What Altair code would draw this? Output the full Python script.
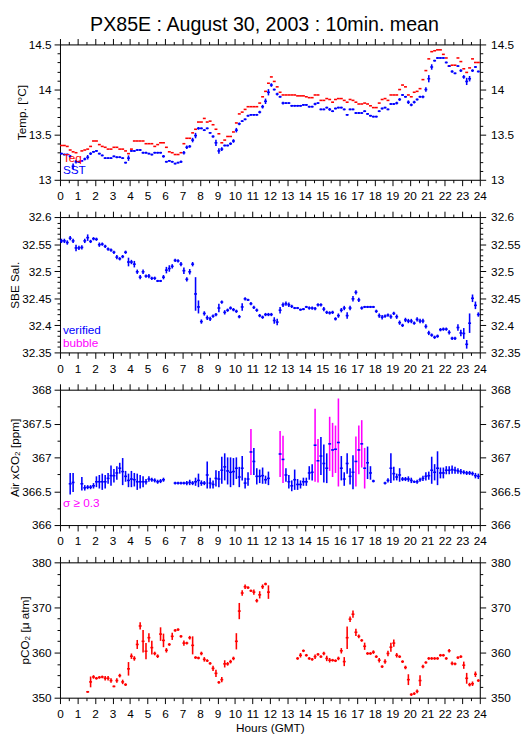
import altair as alt
import pandas as pd

FONT = "Liberation Sans"
W, H = 428, 138

# ---- data: 10-minute means, one row per hour (6 bins), None = no data ----
sst_rows = [
    [13.29, 13.28, 13.28, 13.26, 13.15, 13.20],
    [13.20, 13.21, 13.23, 13.25, 13.29, 13.31],
    [13.32, 13.29, 13.27, 13.24, 13.24, 13.24],
    [13.26, 13.25, 13.25, 13.24, 13.19, 13.24],
    [13.32, 13.32, 13.33, 13.33, 13.30, 13.30],
    [13.29, 13.28, 13.30, 13.30, 13.30, 13.26],
    [13.20, 13.21, 13.20, 13.18, 13.19, 13.20],
    [13.30, 13.36, 13.37, 13.44, 13.49, 13.57],
    [13.57, 13.55, 13.57, 13.52, 13.48, 13.41],
    [13.32, 13.34, 13.38, 13.38, 13.40, 13.43],
    [13.55, 13.62, 13.65, 13.67, 13.71, 13.72],
    [13.72, 13.72, 13.75, 13.81, 13.87, 13.97],
    [14.05, 14.00, 13.95, 13.92, 13.85, 13.85],
    [13.85, 13.82, 13.82, 13.82, 13.82, 13.83],
    [13.83, 13.81, 13.81, 13.84, 13.85, 13.78],
    [13.78, 13.80, 13.78, 13.76, 13.79, 13.80],
    [13.80, 13.78, 13.72, 13.78, 13.78, 13.74],
    [13.74, 13.74, 13.76, 13.73, 13.71, 13.70],
    [13.70, 13.76, 13.79, 13.80, 13.78, 13.84],
    [13.84, 13.85, 13.89, 13.94, 13.92, 13.86],
    [13.83, 13.86, 13.89, 13.92, 13.92, 14.00],
    [14.12, 14.25, 14.32, 14.35, 14.35, 14.35],
    [14.30, 14.26, 14.20, 14.18, 14.26, 14.21],
    [14.14, 14.09, 14.12, 14.21, 14.25, 14.20],
]
sst_sd_rows = [
    [0.01, 0.01, 0.01, 0.015, 0.03, 0.02],
    [0.01, 0.01, 0.015, 0.025, 0.015, 0.01],
    [0.01, 0.01, 0.01, 0.01, 0.01, 0.01],
    [0.01, 0.01, 0.01, 0.01, 0.01, 0.03],
    [0.01, 0.01, 0.01, 0.01, 0.01, 0.01],
    [0.01, 0.01, 0.01, 0.01, 0.01, 0.015],
    [0.01, 0.01, 0.01, 0.01, 0.01, 0.015],
    [0.02, 0.02, 0.015, 0.025, 0.03, 0.015],
    [0.01, 0.01, 0.01, 0.01, 0.015, 0.035],
    [0.03, 0.02, 0.01, 0.01, 0.015, 0.02],
    [0.025, 0.015, 0.01, 0.01, 0.01, 0.01],
    [0.01, 0.01, 0.015, 0.02, 0.03, 0.035],
    [0.02, 0.01, 0.015, 0.01, 0.015, 0.01],
    [0.01, 0.01, 0.01, 0.01, 0.01, 0.01],
    [0.01, 0.01, 0.01, 0.015, 0.01, 0.01],
    [0.01, 0.01, 0.015, 0.01, 0.01, 0.01],
    [0.01, 0.01, 0.01, 0.01, 0.01, 0.01],
    [0.01, 0.01, 0.01, 0.01, 0.01, 0.01],
    [0.01, 0.01, 0.01, 0.01, 0.01, 0.01],
    [0.01, 0.015, 0.015, 0.01, 0.01, 0.02],
    [0.015, 0.015, 0.01, 0.01, 0.015, 0.025],
    [0.04, 0.03, 0.01, 0.01, 0.01, 0.01],
    [0.01, 0.01, 0.015, 0.01, 0.01, 0.015],
    [0.02, 0.04, 0.03, 0.015, 0.01, 0.01],
]
teq_rows = [
    [13.38, 13.38, 13.37, 13.33, 13.31, 13.30],
    [13.20, 13.32, 13.33, 13.34, 13.37, 13.43],
    [13.43, 13.39, 13.37, 13.36, 13.34, 13.34],
    [13.36, 13.36, 13.34, 13.34, 13.32, 13.29],
    [13.34, 13.43, 13.43, 13.43, 13.43, 13.40],
    [13.40, 13.40, 13.37, 13.39, 13.41, 13.41],
    [13.36, 13.31, 13.30, 13.28, 13.28, 13.30],
    [13.40, 13.46, 13.46, 13.52, 13.56, 13.64],
    [13.64, 13.68, 13.64, 13.65, 13.61, 13.56],
    [13.51, 13.41, 13.44, 13.48, 13.48, 13.53],
    [13.63, 13.73, 13.75, 13.78, 13.81, 13.81],
    [13.81, 13.81, 13.85, 13.92, 13.98, 14.07],
    [14.14, 14.09, 14.03, 13.97, 13.94, 13.94],
    [13.94, 13.94, 13.94, 13.93, 13.93, 13.93],
    [13.92, 13.91, 13.91, 13.94, 13.94, 13.88],
    [13.88, 13.90, 13.89, 13.86, 13.89, 13.90],
    [13.90, 13.88, 13.86, 13.89, 13.88, 13.86],
    [13.84, 13.84, 13.85, 13.84, 13.82, 13.80],
    [13.80, 13.85, 13.89, 13.90, 13.88, 13.94],
    [13.94, 13.94, 14.00, 14.05, 14.03, 13.94],
    [13.92, 13.97, 13.98, 14.01, 14.11, 14.21],
    [14.34, 14.42, 14.43, 14.44, 14.44, 14.39],
    [14.35, 14.26, 14.27, 14.27, 14.35, 14.31],
    [14.23, 14.19, 14.24, 14.34, 14.30, 14.30],
]
sal_rows = [
    [32.556, 32.556, 32.553, 32.561, 32.556, 32.543],
    [32.543, 32.544, 32.556, 32.562, 32.555, 32.560],
    [32.559, 32.549, 32.550, 32.546, 32.541, 32.539],
    [32.535, 32.526, 32.523, 32.527, 32.535, 32.517],
    [32.517, 32.513, 32.499, 32.489, 32.499, 32.491],
    [32.491, 32.487, 32.487, 32.482, 32.482, 32.489],
    [32.502, 32.505, 32.509, 32.520, 32.519, 32.513],
    [32.501, 32.485, 32.499, 32.513, 32.458, 32.434],
    [32.407, 32.422, 32.414, 32.412, 32.417, 32.420],
    [32.432, 32.443, 32.424, 32.428, 32.432, 32.429],
    [32.426, 32.416, 32.434, 32.449, 32.447, 32.440],
    [32.433, 32.428, 32.418, 32.415, 32.420, 32.420],
    [32.420, 32.409, 32.406, 32.428, 32.438, 32.440],
    [32.438, 32.435, 32.432, 32.432, 32.429, 32.430],
    [32.434, 32.432, 32.432, 32.431, 32.438, 32.438],
    [32.430, 32.424, 32.423, 32.424, 32.412, 32.418],
    [32.428, 32.432, 32.418, 32.432, 32.449, 32.461],
    [32.447, 32.432, 32.434, 32.434, 32.434, 32.434],
    [32.426, 32.418, 32.415, 32.417, 32.419, 32.416],
    [32.422, 32.416, 32.405, 32.400, 32.410, 32.408],
    [32.408, 32.404, 32.411, 32.408, 32.408, 32.398],
    [32.386, 32.382, 32.378, 32.380, 32.392, 32.393],
    [32.393, 32.387, 32.376, 32.376, 32.396, 32.386],
    [32.385, 32.365, 32.404, 32.450, 32.437, 32.420],
]
sal_sd_rows = [
    [0.004, 0.004, 0.004, 0.004, 0.004, 0.006],
    [0.004, 0.004, 0.004, 0.006, 0.003, 0.003],
    [0.003, 0.004, 0.003, 0.003, 0.003, 0.003],
    [0.003, 0.004, 0.003, 0.003, 0.003, 0.008],
    [0.004, 0.006, 0.004, 0.004, 0.004, 0.003],
    [0.004, 0.003, 0.003, 0.002, 0.002, 0.004],
    [0.006, 0.006, 0.004, 0.003, 0.003, 0.004],
    [0.006, 0.004, 0.005, 0.004, 0.031, 0.012],
    [0.004, 0.004, 0.004, 0.004, 0.003, 0.003],
    [0.008, 0.003, 0.004, 0.003, 0.003, 0.003],
    [0.003, 0.003, 0.007, 0.003, 0.002, 0.003],
    [0.003, 0.003, 0.003, 0.003, 0.003, 0.003],
    [0.003, 0.006, 0.006, 0.006, 0.004, 0.004],
    [0.004, 0.003, 0.002, 0.002, 0.002, 0.002],
    [0.002, 0.003, 0.003, 0.003, 0.003, 0.003],
    [0.004, 0.003, 0.003, 0.003, 0.003, 0.004],
    [0.004, 0.004, 0.006, 0.004, 0.005, 0.004],
    [0.004, 0.003, 0.002, 0.002, 0.002, 0.002],
    [0.003, 0.004, 0.004, 0.003, 0.003, 0.004],
    [0.003, 0.004, 0.004, 0.003, 0.004, 0.004],
    [0.004, 0.003, 0.004, 0.004, 0.004, 0.004],
    [0.004, 0.003, 0.003, 0.003, 0.003, 0.003],
    [0.003, 0.004, 0.003, 0.003, 0.006, 0.006],
    [0.01, 0.008, 0.018, 0.007, 0.007, 0.004],
]
xco2_rows = [
    [None, None, None, 366.61, 366.63, None],
    [None, 366.61, 366.55, 366.56, 366.56, 366.58],
    [366.64, 366.64, 366.64, 366.64, 366.69, 366.73],
    [366.73, 366.77, 366.84, 366.79, 366.72, 366.66],
    [366.68, 366.67, 366.64, 366.64, 366.64, 366.64],
    [366.68, 366.67, 366.66, 366.64, 366.65, 366.67],
    [None, None, None, 366.62, 366.62, 366.62],
    [366.62, 366.62, 366.63, 366.62, 366.64, 366.66],
    [366.62, 366.62, 366.74, 366.62, 366.60, 366.69],
    [366.68, 366.81, 366.86, 366.80, 366.78, 366.79],
    [366.84, 366.71, 366.84, 366.62, 366.68, 367.08],
    [366.94, 366.72, 366.72, 366.73, 366.67, 366.69],
    [None, None, None, 367.05, 366.97, 366.74],
    [366.64, 366.58, 366.67, 366.60, 366.60, 366.64],
    [366.64, 366.77, 366.78, 367.18, 366.95, 367.02],
    [366.91, 366.84, 367.20, 367.11, 367.12, 367.22],
    [366.84, 366.68, 366.91, 366.72, 366.78, 366.94],
    [367.11, 367.20, 366.84, 366.92, 366.77, 366.65],
    [None, None, None, 366.62, 366.66, 366.84],
    [366.76, 366.71, 366.74, 366.68, 366.68, 366.68],
    [366.66, 366.64, 366.64, 366.67, 366.69, 366.72],
    [366.73, 366.81, 366.78, 366.84, 366.77, 366.77],
    [366.81, 366.81, 366.82, 366.81, 366.80, 366.79],
    [366.78, 366.77, 366.77, 366.76, 366.73, 366.72],
]
xco2_sd_rows = [
    [0, 0, 0, 0.16, 0.14, 0],
    [0, 0.1, 0.04, 0.03, 0.03, 0.04],
    [0.08, 0.1, 0.12, 0.1, 0.08, 0.15],
    [0.1, 0.1, 0.08, 0.2, 0.08, 0.1],
    [0.12, 0.1, 0.12, 0.1, 0.08, 0.04],
    [0.04, 0.03, 0.03, 0.03, 0.03, 0.03],
    [0, 0, 0, 0.02, 0.02, 0.02],
    [0.02, 0.03, 0.04, 0.03, 0.06, 0.1],
    [0.04, 0.03, 0.2, 0.08, 0.06, 0.12],
    [0.12, 0.2, 0.2, 0.2, 0.22, 0.2],
    [0.16, 0.15, 0.18, 0.08, 0.1, 0.34],
    [0.2, 0.12, 0.1, 0.12, 0.06, 0.1],
    [0, 0, 0, 0.34, 0.35, 0.1],
    [0.1, 0.08, 0.15, 0.08, 0.06, 0.06],
    [0.06, 0.1, 0.12, 0.54, 0.32, 0.28],
    [0.28, 0.22, 0.4, 0.4, 0.35, 0.65],
    [0.18, 0.1, 0.15, 0.12, 0.25, 0.37],
    [0.36, 0.35, 0.3, 0.24, 0.1, 0.02],
    [0, 0, 0, 0.02, 0.03, 0.22],
    [0.1, 0.05, 0.1, 0.03, 0.03, 0.04],
    [0.04, 0.02, 0.03, 0.03, 0.04, 0.06],
    [0.06, 0.2, 0.12, 0.25, 0.08, 0.08],
    [0.06, 0.06, 0.06, 0.05, 0.04, 0.04],
    [0.03, 0.03, 0.03, 0.03, 0.04, 0.04],
]
pco2_rows = [
    [None, None, None, None, None, None],
    [None, None, None, 351.3, 353.5, 354.6],
    [354.3, 354.5, 354.6, 354.3, 354.3, 353.8],
    [352.5, 353.8, 354.9, 353.5, 352.9, 356.4],
    [359.2, 358.7, 361.8, 365.9, 362.5, 360.3],
    [363.3, 361.1, 359.8, 359.2, 364.1, 362.7],
    [360.5, 361.8, 363.6, 364.9, 365.1, 363.6],
    [362.1, 362.1, 363.3, 361.6, 358.9, 358.8],
    [359.8, 358.5, 358.2, 357.6, 356.5, 355.4],
    [353.4, 354.0, 357.5, 357.5, 358.0, 358.7],
    [362.5, 369.2, 373.2, 374.6, 374.4, 373.7],
    [373.4, 371.5, 372.8, 374.6, 375.2, 373.4],
    [None, None, None, None, None, None],
    [None, None, None, 358.7, 359.4, 360.4],
    [359.4, 358.7, 358.5, 359.1, 359.6, 359.1],
    [359.8, 358.7, 358.3, 358.3, 358.2, 358.7],
    [360.4, 358.0, 363.3, 367.4, 368.5, 364.5],
    [363.6, 362.7, 361.4, 359.8, 359.8, 360.1],
    [359.1, 358.3, 356.9, 358.0, 359.8, 361.2],
    [362.1, 359.4, 359.1, 358.0, 356.7, 354.0],
    [350.7, 350.9, 351.4, 353.8, 356.9, 357.8],
    [358.7, 358.7, 358.7, 358.7, 359.4, 359.4],
    [358.7, 360.4, 357.6, 357.5, 358.9, 359.1],
    [357.2, 354.3, 352.9, 353.1, 355.2, 353.8],
]
pco2_sd_rows = [
    [0, 0, 0, 0, 0, 0],
    [0, 0, 0, 0.2, 1.2, 0.4],
    [0.3, 0.3, 0.3, 0.5, 0.5, 0.5],
    [0.2, 0.5, 0.4, 0.5, 0.3, 1.5],
    [0.6, 0.5, 1.0, 0.8, 2.5, 1.8],
    [1.0, 1.5, 0.4, 0.4, 1.5, 1.5],
    [0.5, 0.3, 0.8, 0.3, 0.3, 0.3],
    [0.6, 0.3, 0.4, 2.0, 0.3, 0.3],
    [0.4, 0.5, 0.3, 0.3, 0.6, 0.8],
    [0.3, 0.6, 0.8, 0.4, 0.4, 0.4],
    [1.8, 1.8, 0.6, 0.5, 0.3, 0.3],
    [0.6, 0.4, 0.8, 0.5, 0.3, 1.5],
    [0, 0, 0, 0, 0, 0],
    [0, 0, 0, 0.3, 0.5, 0.3],
    [0.3, 0.3, 0.3, 0.5, 0.3, 0.3],
    [0.4, 0.6, 0.5, 0.3, 0.3, 0.4],
    [0.6, 1.0, 2.5, 0.6, 0.8, 0.8],
    [0.4, 0.3, 0.8, 0.3, 0.3, 0.4],
    [0.3, 0.5, 0.3, 0.5, 0.6, 1.0],
    [0.8, 0.5, 0.3, 0.3, 0.4, 1.2],
    [0.3, 0.3, 0.4, 1.2, 0.4, 0.3],
    [0.3, 0.3, 0.3, 0.3, 0.3, 0.3],
    [0.3, 0.4, 0.4, 0.3, 0.3, 0.3],
    [0.8, 1.2, 0.4, 0.5, 0.6, 0.3],
]

x_ticks = [k * 0.5 for k in range(49)]
y1_ticks = [round(13 + 0.1 * k, 2) for k in range(16)]
y2_ticks = [round(32.35 + 0.01 * k, 3) for k in range(26)]
y3_ticks = [round(366 + 0.25 * k, 2) for k in range(9)]
y4_ticks = [round(350 + 2.5 * k, 1) for k in range(13)]


def flat(rows):
    out = []
    for r in rows:
        out.extend(r)
    return out


def table(rows, sd_rows=None):
    vals = flat(rows)
    sds = flat(sd_rows) if sd_rows is not None else [0] * len(vals)
    recs = []
    for i, (v, s) in enumerate(zip(vals, sds)):
        if v is None:
            continue
        t = (i + 0.5) / 6.0
        recs.append({"t": t, "lo": t - 1 / 12, "hi": t + 1 / 12, "v": v,
                     "v1": v - s, "v2": v + s, "sd": s})
    return pd.DataFrame(recs)


XS = alt.Scale(domain=[0, 24], nice=False, zero=False)


def xaxis(orient, show_labels, title=None):
    kw = dict(orient=orient, values=x_ticks,
              tickSize={"condition": {"test": "datum.value % 1 == 0", "value": 6}, "value": 3},
              labels=show_labels,
              labelExpr="datum.value % 1 == 0 ? format(datum.value, '~g') : ''",
              labelFlush=False, labelOverlap=False, labelPadding=5,
              labelFontSize=12, labelFont=FONT, labelColor="black",
              domainColor="black", tickColor="black", grid=False)
    if title:
        kw.update(title=title, titleFont=FONT, titleFontSize=12,
                  titleFontWeight="normal", titlePadding=3, titleColor="black")
    else:
        kw["title"] = None
    return alt.Axis(**kw)


def yaxis(orient, ticks, test, title=None):
    kw = dict(orient=orient, values=ticks,
              tickSize={"condition": {"test": test, "value": 6}, "value": 3},
              labelExpr="(" + test + ") ? format(datum.value, '~g') : ''",
              labelOverlap=False, labelFlush=False,
              labelPadding=3 if orient == "left" else 5,
              labelFontSize=12, labelFont=FONT, labelColor="black",
              domainColor="black", tickColor="black", grid=False)
    if title:
        kw.update(title=title, titleFont=FONT, titleFontSize=12,
                  titleFontWeight="normal", titlePadding=0, titleColor="black")
    else:
        kw["title"] = None
    return alt.Axis(**kw)


def label(txt, color, ypos):
    return alt.Chart(pd.DataFrame({"s": [txt]})).mark_text(
        align="left", baseline="alphabetic", fontSize=12, font=FONT, color=color
    ).encode(x=alt.value(3), y=alt.value(ypos), text="s:N")


def panel(df, color, yscale, ticks, test, ytitle, xtitle=None, vcolor=None,
          extra=(), under=()):
    h = alt.Chart(df).mark_rule(color=color, strokeWidth=1.6).encode(
        x=alt.X("lo:Q", scale=XS, axis=xaxis("bottom", True, xtitle)),
        x2="hi:Q",
        y=alt.Y("v:Q", scale=yscale, axis=yaxis("left", ticks, test, ytitle)),
    )
    venc = dict(
        x=alt.X("t:Q", scale=XS, axis=xaxis("top", False)),
        y=alt.Y("v1:Q", scale=yscale, axis=yaxis("right", ticks, test)),
        y2="v2:Q",
    )
    if vcolor is not None:
        venc["color"] = alt.Color("c:N", scale=None)
        v = alt.Chart(df).mark_rule(strokeWidth=1.6).encode(**venc)
    else:
        v = alt.Chart(df).mark_rule(color=color, strokeWidth=1.6).encode(**venc)
    layers = list(under) + [v, h] + list(extra)
    return alt.layer(*layers).resolve_axis(x="independent", y="independent").properties(width=W, height=H)


# panel 1: temperature
df_sst = table(sst_rows, sst_sd_rows)
df_teq = table(teq_rows)
ys1 = alt.Scale(domain=[13, 14.5], nice=False, zero=False)
teq_layer = alt.Chart(df_teq).mark_rule(color="#ff0000", strokeWidth=1.6).encode(
    x=alt.X("lo:Q", scale=XS, axis=None), x2="hi:Q",
    y=alt.Y("v:Q", scale=ys1, axis=None))
t1 = "abs(datum.value*2-round(datum.value*2))<1e-6"
p1 = panel(df_sst, "#0000ff", ys1, y1_ticks, t1, "Temp. [°C]",
           under=[teq_layer],
           extra=[label("Teq", "#ff0000", 119.5), label("SST", "#0000ff", 132)])

# panel 2: salinity
df_sal = table(sal_rows, sal_sd_rows)
ys2 = alt.Scale(domain=[32.35, 32.6], nice=False, zero=False)
t2 = "abs(datum.value*20-round(datum.value*20))<1e-6"
p2 = panel(df_sal, "#0000ff", ys2, y2_ticks, t2, "SBE Sal.",
           extra=[label("verified", "#0000ff", 119.5), label("bubble", "#ff00ff", 132)])

# panel 3: air xCO2
df_x = table(xco2_rows, xco2_sd_rows)
df_x["c"] = ["#ff00ff" if s >= 0.3 else "#0000ff" for s in df_x["sd"]]
ys3 = alt.Scale(domain=[366, 368], nice=False, zero=False)
p3 = panel(df_x, "#0000ff", ys3, y3_ticks, t1, "Air xCO₂ [ppm]", vcolor=True,
           extra=[label("σ ≥ 0.3", "#ff00ff", 119.5)])

# panel 4: pCO2
df_p = table(pco2_rows, pco2_sd_rows)
ys4 = alt.Scale(domain=[350, 380], nice=False, zero=False)
t4 = "abs(datum.value/10-round(datum.value/10))<1e-6"
p4 = panel(df_p, "#ff0000", ys4, y4_ticks, t4, "pCO₂ [μ atm]", xtitle="Hours (GMT)")

chart = alt.vconcat(p1, p2, p3, p4, spacing=8).properties(
    title=alt.TitleParams("PX85E : August 30, 2003 : 10min. mean", font=FONT,
                          fontSize=20, fontWeight="normal", anchor="middle",
                          color="black", offset=3),
    padding={"left": 0, "top": 0, "right": 0, "bottom": 0},
).configure_view(stroke="black", strokeWidth=1).configure(font=FONT, background="white")

chart.save("out.html", embed_options={"renderer": "svg", "actions": False})
